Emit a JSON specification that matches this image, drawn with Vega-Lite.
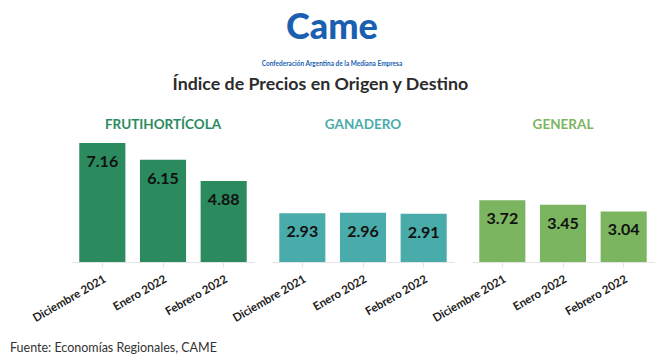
{
  "$schema": "https://vega.github.io/schema/vega-lite/v6.json",
  "background": "white",
  "padding": {"left": 10, "top": 10, "right": 5, "bottom": 4},
  "datasets": {
    "precios": [
      {"grupo": "FRUTIHORTÍCOLA", "mes": "Diciembre 2021", "valor": 7.16},
      {"grupo": "FRUTIHORTÍCOLA", "mes": "Enero 2022", "valor": 6.15},
      {"grupo": "FRUTIHORTÍCOLA", "mes": "Febrero 2022", "valor": 4.88},
      {"grupo": "GANADERO", "mes": "Diciembre 2021", "valor": 2.93},
      {"grupo": "GANADERO", "mes": "Enero 2022", "valor": 2.96},
      {"grupo": "GANADERO", "mes": "Febrero 2022", "valor": 2.91},
      {"grupo": "GENERAL", "mes": "Diciembre 2021", "valor": 3.72},
      {"grupo": "GENERAL", "mes": "Enero 2022", "valor": 3.45},
      {"grupo": "GENERAL", "mes": "Febrero 2022", "valor": 3.04}
    ]
  },
  "data": {"name": "precios"},
  "title": {
    "text": "Came",
    "subtitle": "Confederación Argentina de la Mediana Empresa",
    "font": "Lato",
    "fontSize": 36,
    "fontWeight": 900,
    "color": "#1a5fb0",
    "subtitleFont": "Lato",
    "subtitleFontSize": 6.5,
    "subtitleFontWeight": "bold",
    "subtitleColor": "#1a5fb0",
    "subtitlePadding": 14,
    "anchor": "middle",
    "offset": 7
  },
  "vconcat": [
    {
      "title": {
        "text": "Fuente: Economías Regionales, CAME",
        "orient": "bottom",
        "anchor": "start",
        "frame": "group",
        "font": "Lato",
        "fontSize": 12.5,
        "fontWeight": "normal",
        "color": "#333333",
        "offset": 18,
        "dx": -62
      },
      "vconcat": [
        {
          "title": {
            "text": "Índice de Precios en Origen y Destino",
            "font": "Lato",
            "fontSize": 17.8,
            "fontWeight": "bold",
            "color": "#2b2b2b",
            "anchor": "middle",
            "offset": 24,
            "dx": -22
          },
          "spacing": 18,
          "bounds": "flush",
          "hconcat": [
            {
              "width": 182,
              "height": 122,
              "title": {"text": "FRUTIHORTÍCOLA", "color": "#2b8a5e"},
              "transform": [{"filter": "datum.grupo === 'FRUTIHORTÍCOLA'"}],
              "encoding": {
                "x": {"field": "mes", "type": "nominal", "sort": ["Diciembre 2021", "Enero 2022", "Febrero 2022"], "scale": {"paddingInner": 0.24, "paddingOuter": 0.12}},
                "y": {"field": "valor", "type": "quantitative", "scale": {"domain": [0, 7.34]}, "axis": null}
              },
              "layer": [
                {"mark": {"type": "bar", "color": "#2b8a5e"}},
                {"mark": {"type": "text", "font": "Lato", "fontSize": 16, "fontWeight": "bold", "color": "#111111", "baseline": "middle", "dy": 19}, "encoding": {"text": {"field": "valor", "type": "quantitative", "format": ".2f"}}}
              ]
            },
            {
              "width": 182,
              "height": 122,
              "title": {"text": "GANADERO", "color": "#4aacaa"},
              "transform": [{"filter": "datum.grupo === 'GANADERO'"}],
              "encoding": {
                "x": {"field": "mes", "type": "nominal", "sort": ["Diciembre 2021", "Enero 2022", "Febrero 2022"], "scale": {"paddingInner": 0.24, "paddingOuter": 0.12}},
                "y": {"field": "valor", "type": "quantitative", "scale": {"domain": [0, 7.34]}, "axis": null}
              },
              "layer": [
                {"mark": {"type": "bar", "color": "#4aacaa"}},
                {"mark": {"type": "text", "font": "Lato", "fontSize": 16, "fontWeight": "bold", "color": "#111111", "baseline": "middle", "dy": 19}, "encoding": {"text": {"field": "valor", "type": "quantitative", "format": ".2f"}}}
              ]
            },
            {
              "width": 182,
              "height": 122,
              "title": {"text": "GENERAL", "color": "#7cb55f"},
              "transform": [{"filter": "datum.grupo === 'GENERAL'"}],
              "encoding": {
                "x": {"field": "mes", "type": "nominal", "sort": ["Diciembre 2021", "Enero 2022", "Febrero 2022"], "scale": {"paddingInner": 0.24, "paddingOuter": 0.12}},
                "y": {"field": "valor", "type": "quantitative", "scale": {"domain": [0, 7.34]}, "axis": null}
              },
              "layer": [
                {"mark": {"type": "bar", "color": "#7cb55f"}},
                {"mark": {"type": "text", "font": "Lato", "fontSize": 16, "fontWeight": "bold", "color": "#111111", "baseline": "middle", "dy": 19}, "encoding": {"text": {"field": "valor", "type": "quantitative", "format": ".2f"}}}
              ]
            }
          ]
        }
      ]
    }
  ],
  "config": {
    "view": {"stroke": null},
    "axisX": {
      "title": null,
      "labelAngle": -30,
      "labelFont": "Lato",
      "labelFontSize": 11.5,
      "labelFontWeight": "bold",
      "labelColor": "#222222",
      "labelPadding": 6,
      "domainColor": "#e3e3e3",
      "tickColor": "#e3e3e3",
      "tickSize": 5
    },
    "title": {
      "font": "Lato",
      "fontSize": 13.5,
      "fontWeight": "bold",
      "anchor": "middle",
      "offset": 9
    }
  }
}
